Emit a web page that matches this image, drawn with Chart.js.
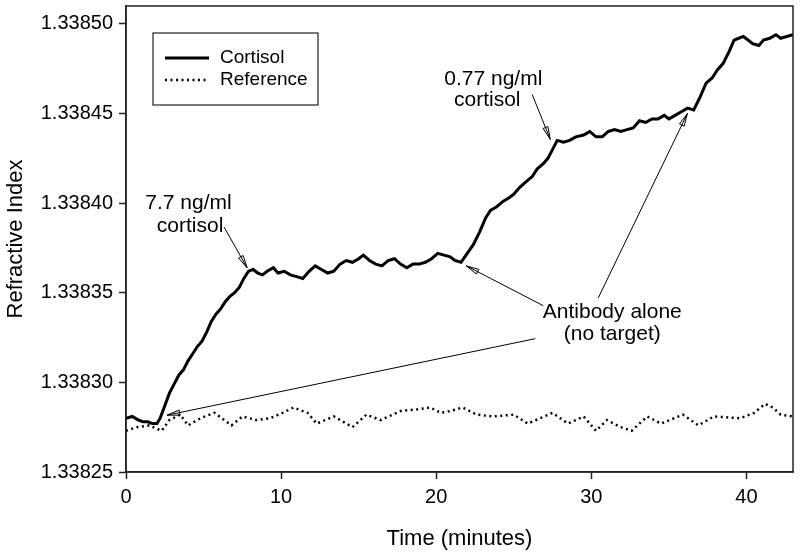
<!DOCTYPE html>
<html>
<head>
<meta charset="utf-8">
<script src="https://cdn.jsdelivr.net/npm/chart.js@4/dist/chart.umd.min.js"></script>
<style>
  html, body { margin: 0; padding: 0; background: #fff; }
  #wrap { width: 800px; height: 557px; }
</style>
</head>
<body>
<div id="wrap"><canvas id="riChart" width="800" height="557"></canvas></div>
<script>
// time (minutes) and refractive index
var cortisolTime = [0.0, 0.4, 0.8, 1.1, 1.4, 1.7, 2.0, 2.2, 2.5, 2.8, 3.1, 3.4, 3.7, 4.0, 4.3, 4.6, 4.9, 5.2, 5.5, 5.8,
    6.1, 6.4, 6.7, 7.0, 7.3, 7.6, 7.9, 8.2, 8.5, 8.8, 9.1, 9.5, 9.8, 10.2, 10.6, 11.0, 11.4, 11.8, 12.2, 12.6,
    13.0, 13.4, 13.8, 14.2, 14.6, 15.0, 15.3, 15.7, 16.1, 16.5, 16.9, 17.3, 17.7, 18.1, 18.5, 18.9, 19.3, 19.7, 20.1, 20.5,
    20.9, 21.2, 21.6, 22.0, 22.4, 22.8, 23.2, 23.5, 23.9, 24.3, 24.7, 25.0, 25.4, 25.8, 26.2, 26.5, 26.9, 27.2, 27.5, 27.8,
    28.2, 28.6, 29.0, 29.5, 29.9, 30.3, 30.7, 31.1, 31.5, 31.9, 32.3, 32.7, 33.1, 33.5, 33.9, 34.3, 34.7, 35.0, 35.4, 35.8,
    36.2, 36.6, 37.0, 37.4, 37.8, 38.1, 38.5, 38.9, 39.2, 39.5, 39.8, 40.1, 40.4, 40.8, 41.1, 41.5, 41.9, 42.2, 42.6, 43.0];
var cortisolRI = [1.338280, 1.338281, 1.338279, 1.338278, 1.338278, 1.338277, 1.338277, 1.338280, 1.338287, 1.338294,
    1.338299, 1.338304, 1.338307, 1.338312, 1.338316, 1.338320, 1.338323, 1.338328, 1.338334, 1.338338,
    1.338341, 1.338345, 1.338348, 1.338350, 1.338353, 1.338358, 1.338362, 1.338363, 1.338361, 1.338360,
    1.338362, 1.338364, 1.338361, 1.338362, 1.338360, 1.338359, 1.338358, 1.338362, 1.338365, 1.338363,
    1.338361, 1.338362, 1.338366, 1.338368, 1.338367, 1.338369, 1.338371, 1.338368, 1.338366, 1.338365,
    1.338368, 1.338369, 1.338366, 1.338364, 1.338366, 1.338366, 1.338367, 1.338369, 1.338372, 1.338371,
    1.338370, 1.338368, 1.338367, 1.338372, 1.338377, 1.338384, 1.338392, 1.338396, 1.338398, 1.338401,
    1.338403, 1.338405, 1.338409, 1.338412, 1.338415, 1.338419, 1.338422, 1.338425, 1.338430, 1.338435,
    1.338434, 1.338435, 1.338437, 1.338438, 1.338440, 1.338437, 1.338437, 1.338440, 1.338441, 1.338440,
    1.338441, 1.338442, 1.338446, 1.338445, 1.338447, 1.338447, 1.338449, 1.338447, 1.338449, 1.338451,
    1.338453, 1.338452, 1.338459, 1.338467, 1.338470, 1.338474, 1.338478, 1.338485, 1.338491, 1.338492,
    1.338493, 1.338491, 1.338489, 1.338488, 1.338491, 1.338492, 1.338494, 1.338492, 1.338493, 1.338494];

var referenceTime = [0.0, 0.7, 1.5, 2.3, 2.8, 3.5, 4.0, 4.8, 5.7, 6.8, 7.5, 8.4, 9.3, 10.1, 10.8, 11.7, 12.3, 13.4, 14.6, 15.5,
    16.4, 17.7, 18.8, 19.6, 20.3, 20.9, 21.7, 22.6, 23.7, 25.0, 25.9, 27.5, 28.5, 29.5, 30.3, 31.0, 31.9, 32.6, 33.6, 34.5,
    35.9, 36.9, 37.9, 39.6, 40.5, 41.2, 41.7, 42.2, 43.0];
var referenceRI = [1.338273, 1.338275, 1.338276, 1.338273, 1.338279, 1.338282, 1.338276, 1.338280, 1.338283, 1.338276,
    1.338281, 1.338279, 1.338280, 1.338283, 1.338286, 1.338283, 1.338277, 1.338281, 1.338275, 1.338282,
    1.338279, 1.338284, 1.338285, 1.338286, 1.338283, 1.338284, 1.338286, 1.338282, 1.338281, 1.338282,
    1.338277, 1.338283, 1.338277, 1.338281, 1.338273, 1.338279, 1.338275, 1.338273, 1.338281, 1.338277,
    1.338282, 1.338276, 1.338281, 1.338280, 1.338283, 1.338288, 1.338286, 1.338282, 1.338281];

var xTicks = [0, 10, 20, 30, 40];
var yTicks = [1.33825, 1.33830, 1.33835, 1.33840, 1.33845, 1.33850];

// labels and arrows, in data units (minutes, refractive index)
var noteTexts = [
    { text: "7.7 ng/ml", x: 4.03, y: 1.3384000 },
    { text: "cortisol", x: 4.13, y: 1.3383872 },
    { text: "0.77 ng/ml", x: 23.68, y: 1.3384694 },
    { text: "cortisol", x: 23.29, y: 1.3384572 },
    { text: "Antibody alone", x: 31.35, y: 1.3383394 },
    { text: "(no target)", x: 31.35, y: 1.3383267 }
];
var noteArrows = [
    [6.32, 1.3383867, 7.81, 1.3383639],
    [26.19, 1.3384606, 27.35, 1.3384356],
    [26.90, 1.3383428, 21.94, 1.3383650],
    [30.45, 1.3383472, 36.19, 1.3384500],
    [26.39, 1.3383244, 2.65, 1.3382817]
];

var FONT = "'Liberation Sans', Arial, sans-serif";

function toPoints(xs, ys) {
    return xs.map(function(x, i) { return { x: x, y: ys[i] }; });
}

var framePlugin = {
    id: "frame",
    afterDatasetsDraw: function(chart) {
        var ctx = chart.ctx;
        var a = chart.chartArea;
        ctx.save();
        ctx.strokeStyle = "#222";
        ctx.lineWidth = 1.5;
        ctx.strokeRect(a.left, a.top, a.right - a.left, a.bottom - a.top);
        ctx.restore();
    }
};

var notesPlugin = {
    id: "notes",
    afterDatasetsDraw: function(chart) {
        var ctx = chart.ctx;
        var xs = chart.scales.x, ys = chart.scales.y;
        ctx.save();
        ctx.fillStyle = "#000";
        ctx.font = "21px " + FONT;
        ctx.textAlign = "center";
        ctx.textBaseline = "middle";
        noteTexts.forEach(function(n) {
            ctx.fillText(n.text, xs.getPixelForValue(n.x), ys.getPixelForValue(n.y));
        });
        ctx.strokeStyle = "#000";
        ctx.lineWidth = 1;
        noteArrows.forEach(function(ar) {
            var x1 = xs.getPixelForValue(ar[0]), y1 = ys.getPixelForValue(ar[1]);
            var x2 = xs.getPixelForValue(ar[2]), y2 = ys.getPixelForValue(ar[3]);
            ctx.beginPath();
            ctx.moveTo(x1, y1);
            ctx.lineTo(x2, y2);
            ctx.stroke();
            var ang = Math.atan2(y2 - y1, x2 - x1);
            var len = 13, spread = 0.2;
            ctx.beginPath();
            ctx.moveTo(x2 - len * Math.cos(ang - spread), y2 - len * Math.sin(ang - spread));
            ctx.lineTo(x2, y2);
            ctx.lineTo(x2 - len * Math.cos(ang + spread), y2 - len * Math.sin(ang + spread));
            ctx.closePath();
            ctx.stroke();
        });
        ctx.restore();
    }
};

var legendPlugin = {
    id: "boxLegend",
    afterDatasetsDraw: function(chart) {
        var ctx = chart.ctx;
        var a = chart.chartArea;
        var bx = a.left + 27, by = 33, bw = 165, bh = 72;
        ctx.save();
        ctx.fillStyle = "#fff";
        ctx.fillRect(bx, by, bw, bh);
        ctx.strokeStyle = "#222";
        ctx.lineWidth = 1.2;
        ctx.strokeRect(bx, by, bw, bh);
        ctx.font = "19px " + FONT;
        ctx.textBaseline = "middle";
        ctx.textAlign = "left";
        chart.data.datasets.forEach(function(ds, i) {
            var ly = by + 25 + i * 22;
            ctx.beginPath();
            ctx.strokeStyle = "#000";
            ctx.lineWidth = ds.borderWidth;
            ctx.setLineDash(ds.borderDash || []);
            ctx.moveTo(bx + 12, ly);
            ctx.lineTo(bx + 56, ly);
            ctx.stroke();
            ctx.setLineDash([]);
            ctx.fillStyle = "#000";
            ctx.fillText(ds.label, bx + 67, ly);
        });
        ctx.restore();
    }
};

new Chart(document.getElementById("riChart"), {
    type: "line",
    data: {
        datasets: [
            {
                label: "Cortisol",
                data: toPoints(cortisolTime, cortisolRI),
                borderColor: "#000",
                borderWidth: 3,
                pointRadius: 0,
                tension: 0
            },
            {
                label: "Reference",
                data: toPoints(referenceTime, referenceRI),
                borderColor: "#000",
                borderWidth: 2.5,
                borderDash: [2, 3.5],
                pointRadius: 0,
                tension: 0
            }
        ]
    },
    options: {
        responsive: false,
        animation: false,
        layout: { padding: { top: 6, right: 7, left: 0, bottom: 0 } },
        plugins: { legend: { display: false }, tooltip: { enabled: false } },
        scales: {
            x: {
                type: "linear",
                min: 0,
                max: 43,
                afterBuildTicks: function(scale) {
                    scale.ticks = xTicks.map(function(v) { return { value: v }; });
                },
                afterFit: function(scale) { scale.height = 85; },
                grid: { drawOnChartArea: false, drawTicks: true, tickLength: 7, tickColor: "#222", tickWidth: 1.5 },
                border: { display: true, color: "#222", width: 1.5 },
                ticks: { color: "#000", font: { family: FONT, size: 20 }, padding: 6, maxRotation: 0 },
                title: { display: true, text: "Time (minutes)", color: "#000", font: { family: FONT, size: 22 }, padding: { top: 0, bottom: 5 } }
            },
            y: {
                min: 1.33825,
                max: 1.33851,
                afterBuildTicks: function(scale) {
                    scale.ticks = yTicks.map(function(v) { return { value: v }; });
                },
                afterFit: function(scale) {
                    scale.width = 126;
                    scale.paddingTop = 0;
                    scale.paddingBottom = 0;
                },
                grid: { drawOnChartArea: false, drawTicks: true, tickLength: 7, tickColor: "#222", tickWidth: 1.5 },
                border: { display: true, color: "#222", width: 1.5 },
                ticks: {
                    color: "#000",
                    font: { family: FONT, size: 20 },
                    padding: 6,
                    callback: function(v) { return Number(v).toFixed(5); }
                },
                title: { display: true, text: "Refractive Index", color: "#000", font: { family: FONT, size: 22 }, padding: { top: 3, bottom: 8 } }
            }
        }
    },
    plugins: [framePlugin, notesPlugin, legendPlugin]
});
</script>
</body>
</html>
